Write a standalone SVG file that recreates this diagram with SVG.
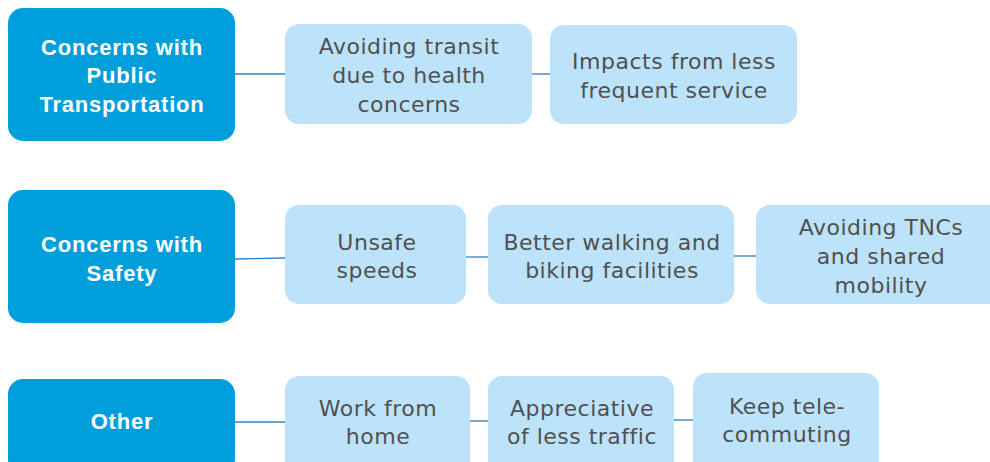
<svg xmlns="http://www.w3.org/2000/svg" width="990" height="462" viewBox="0 0 990 462">
<style>
.dark{fill:#009fdb}
.light{fill:#bde3fb}
.dt{font-family:"Liberation Sans",Arial,sans-serif;font-size:22px;font-weight:bold;letter-spacing:0.8px;fill:#ffffff;text-anchor:middle}
.lt{font-family:"DejaVu Sans","Liberation Sans",sans-serif;font-size:22px;letter-spacing:0.5px;fill:#505050;text-anchor:middle}
.con{stroke:#2f7fc0;stroke-width:1.3;fill:none}
</style>
<rect width="990" height="462" fill="#ffffff"/>
<g id="connectors">
<line class="con" x1="235" y1="74" x2="285" y2="74"/>
<line class="con" x1="532" y1="74" x2="550" y2="74"/>
<line class="con" x1="235" y1="259" x2="285" y2="258"/>
<line class="con" x1="466" y1="257" x2="488" y2="257"/>
<line class="con" x1="734" y1="256" x2="756" y2="256"/>
<line class="con" x1="235" y1="422" x2="285" y2="422"/>
<line class="con" x1="470" y1="421" x2="488" y2="421"/>
<line class="con" x1="674" y1="420" x2="693" y2="420"/>
</g>
<g id="n1"><rect class="dark" x="8" y="8" width="227" height="133" rx="15"/>
<text class="dt" x="122" y="55">Concerns with</text><text class="dt" x="122" y="83">Public</text><text class="dt" x="122" y="112">Transportation</text></g>
<g id="n2"><rect class="light" x="285" y="24" width="247" height="100" rx="14"/>
<text class="lt" x="409" y="54">Avoiding transit</text><text class="lt" x="409" y="83">due to health</text><text class="lt" x="409" y="112">concerns</text></g>
<g id="n3"><rect class="light" x="550" y="25" width="247" height="99" rx="14"/>
<text class="lt" x="674" y="69">Impacts from less</text><text class="lt" x="674" y="98">frequent service</text></g>
<g id="n4"><rect class="dark" x="8" y="190" width="227" height="133" rx="15"/>
<text class="dt" x="122" y="252">Concerns with</text><text class="dt" x="122" y="281">Safety</text></g>
<g id="n5"><rect class="light" x="285" y="205" width="181" height="99" rx="14"/>
<text class="lt" x="377" y="250">Unsafe</text><text class="lt" x="377" y="278">speeds</text></g>
<g id="n6"><rect class="light" x="488" y="205" width="246" height="99" rx="14"/>
<text class="lt" x="612" y="250">Better walking and</text><text class="lt" x="612" y="278">biking facilities</text></g>
<g id="n7"><rect class="light" x="756" y="205" width="250" height="99" rx="14"/>
<text class="lt" x="881" y="235">Avoiding TNCs</text><text class="lt" x="881" y="264">and shared</text><text class="lt" x="881" y="293">mobility</text></g>
<g id="n8"><rect class="dark" x="8" y="379" width="227" height="95" rx="15"/>
<text class="dt" x="122" y="429">Other</text></g>
<g id="n9"><rect class="light" x="285" y="376" width="185" height="100" rx="14"/>
<text class="lt" x="378" y="416">Work from</text><text class="lt" x="378" y="444">home</text></g>
<g id="n10"><rect class="light" x="488" y="376" width="186" height="100" rx="14"/>
<text class="lt" x="582" y="416">Appreciative</text><text class="lt" x="582" y="444">of less traffic</text></g>
<g id="n11"><rect class="light" x="693" y="373" width="186" height="103" rx="14"/>
<text class="lt" x="787" y="414">Keep tele-</text><text class="lt" x="787" y="442">commuting</text></g>
</svg>
